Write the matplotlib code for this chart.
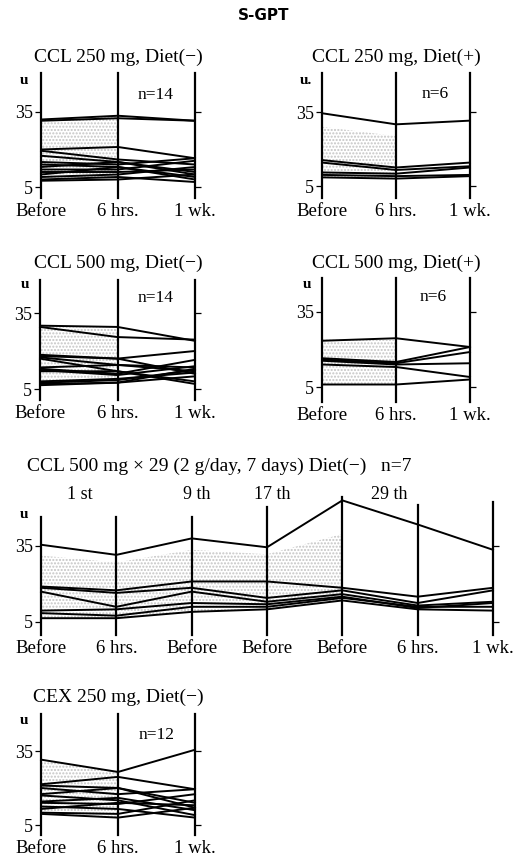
import matplotlib.pyplot as plt
import numpy as np

plt.rcParams['font.family'] = ['Liberation Serif', 'DejaVu Serif']

# ---- data (u) ----
times3 = ['Before', '6 hrs.', '1 wk.']
times7 = ['Before', '6 hrs.', 'Before', 'Before', 'Before', '6 hrs.', '1 wk.']
dose_days = ['1 st', '9 th', '17 th', '29 th']

ccl250_minus = [
    [32, 33.5, 31.5], [31.5, 32.5, 31.5], [20, 21, 16.5], [19.5, 16, 14],
    [17.5, 15, 11], [15, 14, 16.5], [14, 13, 9], [13, 15, 10],
    [12, 12, 15.5], [11, 11, 12], [10, 13, 8], [9, 10, 13],
    [8, 9, 7], [7.5, 8, 10],
]
ccl250_plus = [
    [34.5, 30, 31.5], [15.5, 12.5, 14.5], [14.5, 11.5, 13],
    [10.5, 10, 12.5], [9.5, 9, 9.5], [8.5, 8, 9],
]
ccl500_minus = [
    [30, 29.5, 24], [29.5, 25.5, 24.5], [18.5, 17, 20], [18, 17, 11],
    [17.5, 14.5, 13.5], [17, 12, 7], [13.5, 14.5, 12], [13, 11, 16.5],
    [12.5, 10.5, 14], [12, 12, 8], [8, 9, 11.5], [7.5, 8.5, 12.5],
    [7, 7.5, 10], [6.5, 7.5, 13],
]
ccl500_plus = [
    [23.5, 24.5, 21], [16.5, 15, 21], [16, 14.5, 19],
    [15.5, 14, 14.5], [14, 13, 9], [6, 6, 8],
]
ccl500_x29 = [
    [35.5, 31.5, 38, 34.5, 53, 43.5, 33.5],
    [19, 17.5, 21, 21, 18.5, 15, 18.5],
    [18.5, 16.5, 18.5, 14.5, 17.5, 12.5, 17.5],
    [17, 11, 17, 13, 16, 11.5, 13],
    [9.5, 10, 12.5, 12, 15, 10.5, 12.5],
    [8.5, 7.5, 11, 11, 14.5, 11, 11],
    [6.5, 6.5, 9, 10, 13.5, 10, 9.5],
]
cex250_minus = [
    [31.5, 26.5, 35.5], [21.5, 24.5, 19.5], [21, 20, 12], [20, 17.5, 19.5],
    [17.5, 20, 14], [17, 15, 9], [14.5, 16, 11], [14, 13.5, 17.5],
    [12.5, 11.5, 8], [11.5, 14, 13], [10, 9.5, 15], [9.5, 8, 12],
]

W, H = 529, 858
fig = plt.figure(figsize=(W / 100, H / 100), dpi=100)


def ftext(x, y, s, **kw):
    fig.text(x / W, 1 - y / H, s, **kw)


def panel(left, right, top, bottom, y35, y5):
    ax = fig.add_axes([left / W, 1 - bottom / H, (right - left) / W, (bottom - top) / H])
    k = (y5 - y35) / 30.0
    ax.set_ylim(5 - (bottom - y5) / k, 35 + (y35 - top) / k)
    return ax


def draw(ax, labels, series, shade_to=1, tops=None):
    n = len(labels)
    xs = np.arange(n)
    ax.set_xlim(0, n - 1)
    for s in ax.spines.values():
        s.set_visible(False)
    ymin, ymax = ax.get_ylim()
    data = np.array(series, dtype=float)

    # stippled halftone area of the scan
    srt = np.sort(data, axis=0)
    lo = srt[0, :shade_to + 1]
    hi = srt[-1, :shade_to + 1] if len(data) > 7 else (srt[-1] + srt[-2])[:shade_to + 1] / 2 + 4
    ax.fill_between(xs[:shade_to + 1], lo, hi, facecolor='none', hatch='.....',
                    edgecolor='#c4c4c4', linewidth=0)

    for i in xs:
        t = ymax if tops is None else tops[i]
        ax.plot([i, i], [ymin, t], color='k', lw=1.6, clip_on=False)
    for row in data:
        ax.plot(xs, row, color='k', lw=1.4, clip_on=False)

    ax.set_xticks(xs, labels)
    ax.set_yticks([5, 35], ['5', '35'])
    ax.tick_params(axis='x', length=0, pad=3.5, labelsize=13.5)
    ax.tick_params(axis='y', left=True, right=True, direction='out',
                   length=4, width=0.9, pad=2, labelsize=13)


ftext(264, 16, 'S-GPT', ha='center', va='center', fontsize=11, fontweight='bold',
      family=['DejaVu Sans'])

# CCL 250 mg, Diet(-)
ax = panel(41, 195, 73, 198, 112, 187)
draw(ax, times3, ccl250_minus)
ftext(118, 57, 'CCL 250 mg, Diet(−)', ha='center', va='center', fontsize=14)
ftext(24, 80, 'u', ha='center', va='center', fontsize=11, fontweight='bold')
ftext(156, 95, 'n=14', ha='center', va='center', fontsize=12.5)

# CCL 250 mg, Diet(+)
ax = panel(322, 470, 73, 198, 112, 186)
draw(ax, times3, ccl250_plus)
ftext(396, 57, 'CCL 250 mg, Diet(+)', ha='center', va='center', fontsize=14)
ftext(306, 80, 'u.', ha='center', va='center', fontsize=11, fontweight='bold')
ftext(435, 94, 'n=6', ha='center', va='center', fontsize=12.5)

# CCL 500 mg, Diet(-)
ax = panel(40, 195, 280, 400, 313, 389)
draw(ax, times3, ccl500_minus)
ftext(118, 263, 'CCL 500 mg, Diet(−)', ha='center', va='center', fontsize=14)
ftext(25, 284, 'u', ha='center', va='center', fontsize=11, fontweight='bold')
ftext(156, 298, 'n=14', ha='center', va='center', fontsize=12.5)

# CCL 500 mg, Diet(+)
ax = panel(322, 470, 278, 402, 312, 387)
draw(ax, times3, ccl500_plus)
ftext(396, 263, 'CCL 500 mg, Diet(+)', ha='center', va='center', fontsize=14)
ftext(307, 284, 'u', ha='center', va='center', fontsize=11, fontweight='bold')
ftext(433, 297, 'n=6', ha='center', va='center', fontsize=12.5)

# CCL 500 mg x 29
ax = panel(41, 493, 497, 635, 546, 622)
draw(ax, times7, ccl500_x29, shade_to=4,
     tops=[46.5, 46.5, 46.5, 50.3, 54.2, 51.0, 52.3])
ftext(27, 466, 'CCL 500 mg × 29 (2 g/day, 7 days) Diet(−)   n=7',
      ha='left', va='center', fontsize=14)
for lab, xp in zip(dose_days, [80, 197, 272, 389]):
    ftext(xp, 494, lab, ha='center', va='center', fontsize=13)
ftext(24, 514, 'u', ha='center', va='center', fontsize=11, fontweight='bold')

# CEX 250 mg, Diet(-)
ax = panel(41, 195, 714, 835, 751, 825)
draw(ax, times3, cex250_minus)
ftext(118, 697, 'CEX 250 mg, Diet(−)', ha='center', va='center', fontsize=14)
ftext(24, 720, 'u', ha='center', va='center', fontsize=11, fontweight='bold')
ftext(157, 735, 'n=12', ha='center', va='center', fontsize=12.5)

fig.savefig('out.png', dpi=100)
